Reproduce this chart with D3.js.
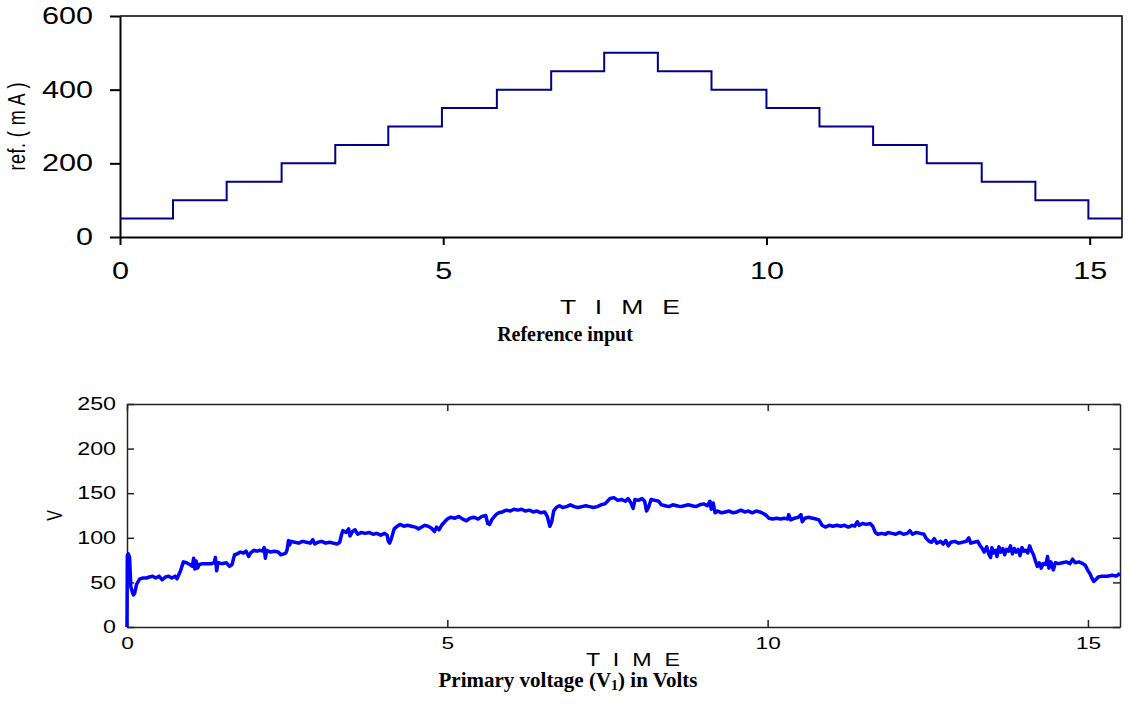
<!DOCTYPE html>
<html>
<head>
<meta charset="utf-8">
<script src="https://cdnjs.cloudflare.com/ajax/libs/d3/7.8.5/d3.min.js"></script>
<style>
  body { margin: 0; background: #fff; }
  svg { display: block; }
  .tick text { font-family: "Liberation Sans", Arial, sans-serif; fill: #000; }
  .ttl { font-family: "Liberation Serif", "Times New Roman", serif; font-weight: bold; }
  .lbl { font-family: "Liberation Sans", Arial, sans-serif; }
</style>
</head>
<body>
<div id="chart"></div>
<script>
// REFERENCE INPUT + PRIMARY VOLTAGE (two stacked panels)

const W = 1129
const H = 709
// glyphs in the original are stretched sideways
const STRETCH = 1.33

// --- data: reference current steps (mA)
const stepTimes = [0, 0.82, 1.65, 2.50, 3.33, 4.15, 4.98, 5.83, 6.67, 7.49, 8.32, 9.15, 10.0, 10.82, 11.65, 12.48, 13.33, 14.16, 14.98]
const stepLevels = [50, 100, 150, 200, 250, 300, 350, 400, 450, 500, 450, 400, 350, 300, 250, 200, 150, 100, 50]
const endTime = 15.5

// --- data: primary voltage, [time, volts]
const voltage = [
  [0, 0], [0.005, 80], [0.02, 82], [0.04, 78], [0.06, 45], [0.08, 40], [0.1, 36], [0.12, 38], [0.15, 48], [0.2, 54],
  [0.25, 55], [0.3, 55], [0.35, 56], [0.4, 57], [0.45, 55], [0.5, 57], [0.55, 53], [0.6, 56], [0.65, 57], [0.7, 55], [0.75, 57], [0.78, 54],
  [0.83, 62], [0.88, 73], [0.93, 72], [0.98, 70], [1.02, 68], [1.04, 77], [1.06, 65], [1.08, 74], [1.1, 66], [1.13, 70], [1.18, 71],
  [1.25, 71], [1.32, 71], [1.36, 72], [1.38, 78], [1.4, 63], [1.42, 72], [1.48, 71], [1.55, 72], [1.6, 68], [1.64, 70],
  [1.66, 76], [1.68, 81], [1.72, 82], [1.77, 84], [1.82, 83], [1.86, 85], [1.9, 79], [1.93, 83], [1.98, 86], [2.03, 85], [2.08, 86],
  [2.12, 85], [2.14, 89], [2.16, 77], [2.18, 86], [2.24, 84], [2.3, 85], [2.36, 84], [2.4, 81], [2.45, 82], [2.48, 83],
  [2.5, 87], [2.52, 97], [2.54, 92], [2.56, 96], [2.62, 95], [2.68, 94], [2.74, 96], [2.8, 95], [2.86, 94], [2.9, 98], [2.93, 93],
  [2.98, 95], [3.04, 96], [3.1, 94], [3.16, 95], [3.22, 94], [3.28, 93], [3.32, 95],
  [3.35, 104], [3.37, 108], [3.42, 106], [3.46, 110], [3.48, 102], [3.52, 107], [3.56, 109], [3.6, 104], [3.66, 106], [3.72, 105],
  [3.78, 106], [3.84, 104], [3.9, 105], [3.96, 103], [4.02, 105], [4.06, 103], [4.08, 96], [4.1, 94], [4.13, 100], [4.17, 110], [4.22, 113],
  [4.26, 115], [4.32, 113], [4.38, 114], [4.44, 113], [4.5, 112], [4.55, 110], [4.6, 112], [4.65, 114], [4.7, 113], [4.75, 111],
  [4.8, 107], [4.83, 112], [4.87, 109], [4.92, 115], [4.96, 118],
  [5.0, 121], [5.05, 123], [5.12, 122], [5.18, 124], [5.24, 121], [5.3, 119], [5.35, 122], [5.42, 123], [5.48, 121], [5.54, 124],
  [5.6, 125], [5.63, 116], [5.66, 115], [5.7, 121], [5.76, 126], [5.8, 128],
  [5.86, 129], [5.92, 131], [5.98, 130], [6.04, 132], [6.1, 131], [6.16, 132], [6.22, 130], [6.28, 131], [6.34, 129], [6.4, 130],
  [6.46, 128], [6.52, 129], [6.56, 124], [6.6, 113], [6.63, 118], [6.66, 130], [6.7, 134],
  [6.75, 136], [6.8, 134], [6.86, 135], [6.92, 137], [6.98, 135], [7.04, 134], [7.1, 135], [7.16, 136], [7.22, 135], [7.28, 134],
  [7.34, 135], [7.4, 137], [7.46, 138],
  [7.5, 141], [7.54, 144], [7.6, 145], [7.66, 142], [7.72, 143], [7.78, 141], [7.82, 144], [7.86, 140], [7.9, 133], [7.93, 143],
  [7.98, 142], [8.04, 144], [8.08, 141], [8.11, 130], [8.14, 134], [8.18, 143], [8.24, 142], [8.3, 141],
  [8.34, 137], [8.4, 136], [8.46, 135], [8.52, 137], [8.58, 136], [8.64, 135], [8.7, 136], [8.76, 137], [8.82, 136], [8.88, 135],
  [8.94, 137], [9.0, 138], [9.06, 136], [9.1, 141], [9.12, 132], [9.15, 139],
  [9.18, 128], [9.22, 130], [9.28, 128], [9.34, 129], [9.4, 130], [9.46, 128], [9.52, 129], [9.58, 131], [9.64, 129], [9.7, 130],
  [9.76, 128], [9.82, 130], [9.88, 129], [9.94, 127], [9.98, 125],
  [10.02, 122], [10.08, 121], [10.14, 122], [10.2, 121], [10.26, 122], [10.31, 121], [10.33, 126], [10.36, 120], [10.42, 122],
  [10.48, 123], [10.52, 126], [10.54, 118], [10.58, 122], [10.64, 123], [10.7, 122], [10.76, 121], [10.8, 120],
  [10.85, 114], [10.9, 112], [10.96, 114], [11.02, 113], [11.08, 114], [11.14, 113], [11.2, 114], [11.26, 112], [11.32, 114],
  [11.36, 113], [11.4, 118], [11.43, 114], [11.48, 116], [11.54, 115], [11.6, 116], [11.64, 113],
  [11.68, 106], [11.72, 104], [11.78, 105], [11.84, 104], [11.88, 106], [11.94, 105], [12.0, 104], [12.06, 106], [12.12, 104],
  [12.18, 105], [12.22, 108], [12.26, 104], [12.32, 106], [12.38, 105], [12.44, 104], [12.47, 100],
  [12.52, 96], [12.56, 95], [12.6, 99], [12.64, 94], [12.7, 96], [12.74, 93], [12.78, 97], [12.82, 91], [12.86, 95], [12.92, 96],
  [12.98, 94], [13.04, 95], [13.1, 96], [13.14, 100], [13.17, 94], [13.22, 95], [13.28, 96], [13.31, 92],
  [13.35, 88], [13.38, 84], [13.42, 90], [13.45, 82], [13.48, 78], [13.5, 89], [13.53, 83], [13.56, 86], [13.58, 79], [13.61, 90],
  [13.64, 84], [13.67, 88], [13.7, 81], [13.73, 87], [13.76, 85], [13.79, 91], [13.82, 82], [13.85, 88], [13.88, 84], [13.91, 87],
  [13.94, 80], [13.97, 89], [14.0, 85], [14.03, 86], [14.06, 83], [14.09, 91], [14.12, 85], [14.15, 81],
  [14.18, 74], [14.21, 68], [14.24, 72], [14.27, 66], [14.3, 71], [14.34, 70], [14.37, 79], [14.39, 66], [14.42, 73], [14.46, 64],
  [14.49, 72], [14.54, 71], [14.6, 72], [14.66, 73], [14.72, 71], [14.76, 76], [14.8, 72], [14.86, 73], [14.92, 71], [14.96, 69],
  [15.0, 63], [15.03, 60], [15.06, 55], [15.09, 51], [15.12, 53], [15.16, 56], [15.22, 57], [15.3, 57], [15.38, 58], [15.44, 57], [15.5, 60]
]

// --- tick labels
const xTicks = [0, 5, 10, 15]
const refTicks = [0, 200, 400, 600]
const voltTicks = [0, 50, 100, 150, 200, 250]

// panel boxes
const TOP = { LEFT: 120, TOP: 16, WIDTH: 1002, HEIGHT: 221 }
const BOT = { LEFT: 127, TOP: 404, WIDTH: 993, HEIGHT: 223 }

const svg = d3.select("#chart").append("svg")
    .attr("width", W)
    .attr("height", H)

// stretch tick labels sideways like the original
const stretchText = (sel, size, x, y) => {
    sel.selectAll(".tick text")
        .attr("font-size", size)
        .attr("transform", `scale(${STRETCH},1)`)
        .each(function() {
            if (x != null) d3.select(this).attr("x", x / STRETCH)
            if (y != null) d3.select(this).attr("y", y)
        })
}

// ===== TOP PANEL
const g1 = svg.append("g")
    .attr("transform", `translate(${TOP.LEFT}, ${TOP.TOP})`)

const x1 = d3.scaleLinear().domain([0, endTime]).range([0, TOP.WIDTH])
const y1 = d3.scaleLinear().domain([0, 600]).range([TOP.HEIGHT, 0])

// frame (top + right)
g1.append("path")
    .attr("d", `M0,0H${TOP.WIDTH}V${TOP.HEIGHT}`)
    .attr("fill", "none")
    .attr("stroke", "#000")
    .attr("stroke-width", 1.5)

const xAxis1 = g1.append("g")
    .attr("transform", `translate(0, ${TOP.HEIGHT})`)
    .call(d3.axisBottom(x1).tickValues(xTicks).tickSizeInner(8).tickSizeOuter(0))
stretchText(xAxis1, 23, null, 26)

const yAxis1 = g1.append("g")
    .call(d3.axisLeft(y1).tickValues(refTicks).tickSizeInner(10).tickSizeOuter(0))
stretchText(yAxis1, 23, -27, null)

g1.selectAll(".domain, .tick line").attr("stroke", "#000").attr("stroke-width", 2)

// reference step trace
const refPoints = stepTimes.map((t, i) => [t, stepLevels[i]])
refPoints.push([endTime, stepLevels[stepLevels.length - 1]])

g1.append("path")
    .datum(refPoints)
    .attr("fill", "none")
    .attr("stroke", "#00008B")
    .attr("stroke-width", 2)
    .attr("d", d3.line().x(d => x1(d[0])).y(d => y1(d[1])).curve(d3.curveStepAfter))

svg.append("text")
    .attr("class", "lbl")
    .attr("transform", `translate(25, ${TOP.TOP + TOP.HEIGHT / 2}) scale(${STRETCH},1) rotate(-90)`)
    .attr("text-anchor", "middle")
    .attr("font-size", 18)
    .attr("textLength", 88)
    .attr("lengthAdjust", "spacing")
    .text("ref. ( m A )")

svg.append("text")
    .attr("class", "lbl")
    .attr("transform", `translate(620, 314) scale(${STRETCH},1)`)
    .attr("text-anchor", "middle")
    .attr("font-size", 20)
    .attr("textLength", 120 / STRETCH)
    .attr("lengthAdjust", "spacing")
    .text("T I M E")

svg.append("text")
    .attr("class", "ttl")
    .attr("x", 565)
    .attr("y", 341)
    .attr("text-anchor", "middle")
    .attr("font-size", 20)
    .text("Reference input")

// ===== BOTTOM PANEL
const g2 = svg.append("g")
    .attr("transform", `translate(${BOT.LEFT}, ${BOT.TOP})`)

const x2 = d3.scaleLinear().domain([0, endTime]).range([0, BOT.WIDTH])
const y2 = d3.scaleLinear().domain([0, 250]).range([BOT.HEIGHT, 0])

// inward ticks on all four sides
const xAxis2 = g2.append("g")
    .attr("transform", `translate(0, ${BOT.HEIGHT})`)
    .call(d3.axisBottom(x2).tickValues(xTicks).tickSizeInner(-7).tickSizeOuter(0))
stretchText(xAxis2, 17, null, 10)

const yAxis2 = g2.append("g")
    .call(d3.axisLeft(y2).tickValues(voltTicks).tickSizeInner(-7).tickSizeOuter(0))
stretchText(yAxis2, 17.5, -11, null)

g2.append("g")
    .call(d3.axisTop(x2).tickValues(xTicks).tickSizeInner(-7).tickSizeOuter(0).tickFormat(""))

g2.append("g")
    .attr("transform", `translate(${BOT.WIDTH}, 0)`)
    .call(d3.axisRight(y2).tickValues(voltTicks).tickSizeInner(-7).tickSizeOuter(0).tickFormat(""))

g2.selectAll(".domain, .tick line").attr("stroke", "#222").attr("stroke-width", 1.5)

g2.append("path")
    .datum(voltage)
    .attr("fill", "none")
    .attr("stroke", "#0000FF")
    .attr("stroke-width", 3.5)
    .attr("stroke-linejoin", "round")
    .attr("d", d3.line().x(d => x2(d[0])).y(d => y2(d[1])))

svg.append("text")
    .attr("class", "lbl")
    .attr("transform", `translate(62, ${BOT.TOP + BOT.HEIGHT / 2}) scale(${STRETCH},1) rotate(-90)`)
    .attr("text-anchor", "middle")
    .attr("font-size", 16)
    .text("V")

svg.append("text")
    .attr("class", "lbl")
    .attr("transform", `translate(633, 666) scale(${STRETCH},1)`)
    .attr("text-anchor", "middle")
    .attr("font-size", 17.5)
    .attr("textLength", 94 / STRETCH)
    .attr("lengthAdjust", "spacing")
    .text("T I M E")

const title2 = svg.append("text")
    .attr("class", "ttl")
    .attr("x", 568)
    .attr("y", 687)
    .attr("text-anchor", "middle")
    .attr("font-size", 21)
title2.append("tspan").text("Primary voltage (V")
title2.append("tspan").attr("font-size", 14).attr("dy", 3).text("1")
title2.append("tspan").attr("dy", -3).text(") in Volts")
</script>
</body>
</html>
